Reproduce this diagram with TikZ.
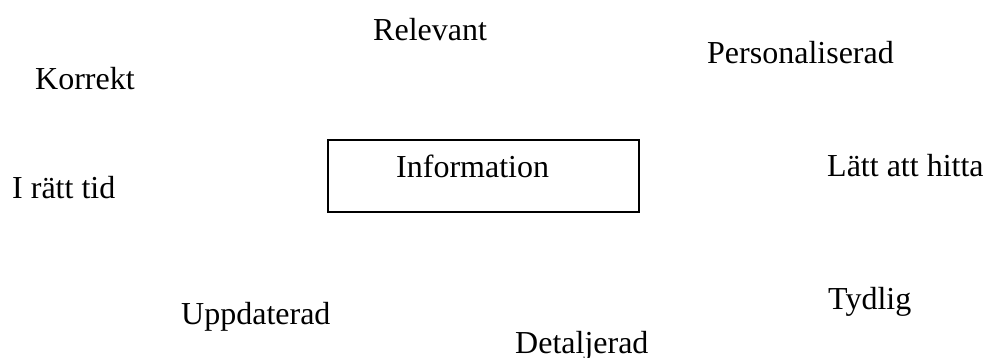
\documentclass[tikz,border=0pt]{standalone}
\usepackage{fontspec}
\setmainfont{Liberation Serif}
\begin{document}
\begin{tikzpicture}[x=1pt,y=-1pt,
  word/.style={anchor=base west,inner sep=0pt,font=\fontsize{32}{38}\selectfont},
  infobox/.style={draw=black,line width=1.5pt,minimum width=311pt,minimum height=72pt,inner sep=0pt}]
\useasboundingbox (0,0) rectangle (986,358);
\node[infobox] (box) at (483.5,176) {};
\node[word] (info) at (396,178) {Information};
\node[word] (rel) at (373,41) {Relevant};
\node[word] (kor) at (35,90) {Korrekt};
\node[word] (pers) at (707,64) {Personaliserad};
\node[word] (tid) at (12,199) {I rätt tid};
\node[word] (latt) at (827,177) {Lätt att hitta};
\node[word] (tyd) at (828,310) {Tydlig};
\node[word] (upp) at (181,324) {Uppdaterad};
\node[word] (det) at (515,353) {Detaljerad};
\end{tikzpicture}
\end{document}
